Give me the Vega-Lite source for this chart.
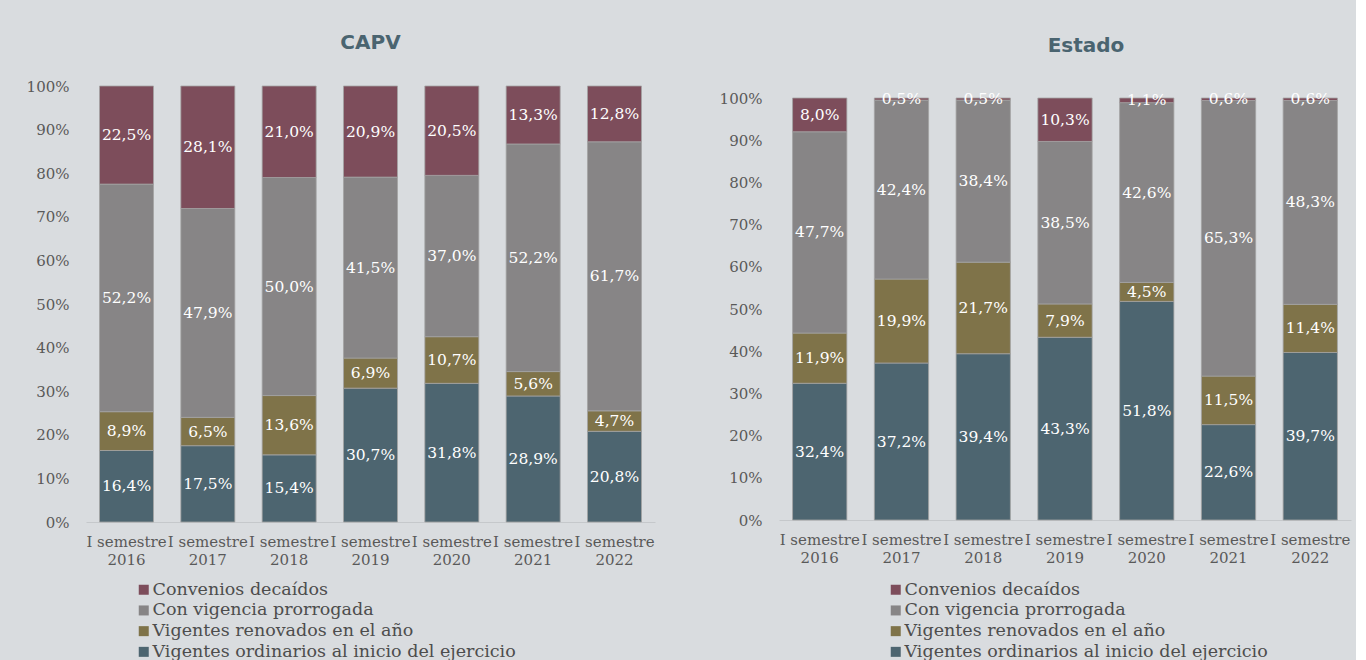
{
  "$schema": "https://vega.github.io/schema/vega-lite/v6.json",
  "background": "#d9dcdf",
  "padding": {"left": 26, "top": 33, "right": 5, "bottom": 0},
  "datasets": {
    "capv": [
      {"periodo": "I semestre 2016", "serie": "Vigentes ordinarios al inicio del ejercicio", "valor": 16.4},
      {"periodo": "I semestre 2016", "serie": "Vigentes renovados en el año", "valor": 8.9},
      {"periodo": "I semestre 2016", "serie": "Con vigencia prorrogada", "valor": 52.2},
      {"periodo": "I semestre 2016", "serie": "Convenios decaídos", "valor": 22.5},
      {"periodo": "I semestre 2017", "serie": "Vigentes ordinarios al inicio del ejercicio", "valor": 17.5},
      {"periodo": "I semestre 2017", "serie": "Vigentes renovados en el año", "valor": 6.5},
      {"periodo": "I semestre 2017", "serie": "Con vigencia prorrogada", "valor": 47.9},
      {"periodo": "I semestre 2017", "serie": "Convenios decaídos", "valor": 28.1},
      {"periodo": "I semestre 2018", "serie": "Vigentes ordinarios al inicio del ejercicio", "valor": 15.4},
      {"periodo": "I semestre 2018", "serie": "Vigentes renovados en el año", "valor": 13.6},
      {"periodo": "I semestre 2018", "serie": "Con vigencia prorrogada", "valor": 50.0},
      {"periodo": "I semestre 2018", "serie": "Convenios decaídos", "valor": 21.0},
      {"periodo": "I semestre 2019", "serie": "Vigentes ordinarios al inicio del ejercicio", "valor": 30.7},
      {"periodo": "I semestre 2019", "serie": "Vigentes renovados en el año", "valor": 6.9},
      {"periodo": "I semestre 2019", "serie": "Con vigencia prorrogada", "valor": 41.5},
      {"periodo": "I semestre 2019", "serie": "Convenios decaídos", "valor": 20.9},
      {"periodo": "I semestre 2020", "serie": "Vigentes ordinarios al inicio del ejercicio", "valor": 31.8},
      {"periodo": "I semestre 2020", "serie": "Vigentes renovados en el año", "valor": 10.7},
      {"periodo": "I semestre 2020", "serie": "Con vigencia prorrogada", "valor": 37.0},
      {"periodo": "I semestre 2020", "serie": "Convenios decaídos", "valor": 20.5},
      {"periodo": "I semestre 2021", "serie": "Vigentes ordinarios al inicio del ejercicio", "valor": 28.9},
      {"periodo": "I semestre 2021", "serie": "Vigentes renovados en el año", "valor": 5.6},
      {"periodo": "I semestre 2021", "serie": "Con vigencia prorrogada", "valor": 52.2},
      {"periodo": "I semestre 2021", "serie": "Convenios decaídos", "valor": 13.3},
      {"periodo": "I semestre 2022", "serie": "Vigentes ordinarios al inicio del ejercicio", "valor": 20.8},
      {"periodo": "I semestre 2022", "serie": "Vigentes renovados en el año", "valor": 4.7},
      {"periodo": "I semestre 2022", "serie": "Con vigencia prorrogada", "valor": 61.7},
      {"periodo": "I semestre 2022", "serie": "Convenios decaídos", "valor": 12.8}
    ],
    "estado": [
      {"periodo": "I semestre 2016", "serie": "Vigentes ordinarios al inicio del ejercicio", "valor": 32.4},
      {"periodo": "I semestre 2016", "serie": "Vigentes renovados en el año", "valor": 11.9},
      {"periodo": "I semestre 2016", "serie": "Con vigencia prorrogada", "valor": 47.7},
      {"periodo": "I semestre 2016", "serie": "Convenios decaídos", "valor": 8.0},
      {"periodo": "I semestre 2017", "serie": "Vigentes ordinarios al inicio del ejercicio", "valor": 37.2},
      {"periodo": "I semestre 2017", "serie": "Vigentes renovados en el año", "valor": 19.9},
      {"periodo": "I semestre 2017", "serie": "Con vigencia prorrogada", "valor": 42.4},
      {"periodo": "I semestre 2017", "serie": "Convenios decaídos", "valor": 0.5},
      {"periodo": "I semestre 2018", "serie": "Vigentes ordinarios al inicio del ejercicio", "valor": 39.4},
      {"periodo": "I semestre 2018", "serie": "Vigentes renovados en el año", "valor": 21.7},
      {"periodo": "I semestre 2018", "serie": "Con vigencia prorrogada", "valor": 38.4},
      {"periodo": "I semestre 2018", "serie": "Convenios decaídos", "valor": 0.5},
      {"periodo": "I semestre 2019", "serie": "Vigentes ordinarios al inicio del ejercicio", "valor": 43.3},
      {"periodo": "I semestre 2019", "serie": "Vigentes renovados en el año", "valor": 7.9},
      {"periodo": "I semestre 2019", "serie": "Con vigencia prorrogada", "valor": 38.5},
      {"periodo": "I semestre 2019", "serie": "Convenios decaídos", "valor": 10.3},
      {"periodo": "I semestre 2020", "serie": "Vigentes ordinarios al inicio del ejercicio", "valor": 51.8},
      {"periodo": "I semestre 2020", "serie": "Vigentes renovados en el año", "valor": 4.5},
      {"periodo": "I semestre 2020", "serie": "Con vigencia prorrogada", "valor": 42.6},
      {"periodo": "I semestre 2020", "serie": "Convenios decaídos", "valor": 1.1},
      {"periodo": "I semestre 2021", "serie": "Vigentes ordinarios al inicio del ejercicio", "valor": 22.6},
      {"periodo": "I semestre 2021", "serie": "Vigentes renovados en el año", "valor": 11.5},
      {"periodo": "I semestre 2021", "serie": "Con vigencia prorrogada", "valor": 65.3},
      {"periodo": "I semestre 2021", "serie": "Convenios decaídos", "valor": 0.6},
      {"periodo": "I semestre 2022", "serie": "Vigentes ordinarios al inicio del ejercicio", "valor": 39.7},
      {"periodo": "I semestre 2022", "serie": "Vigentes renovados en el año", "valor": 11.4},
      {"periodo": "I semestre 2022", "serie": "Con vigencia prorrogada", "valor": 48.3},
      {"periodo": "I semestre 2022", "serie": "Convenios decaídos", "valor": 0.6}
    ]
  },
  "spacing": 64,
  "resolve": {"scale": {"color": "independent"}, "legend": {"color": "independent"}},
  "hconcat": [
    {
      "title": {"text": "CAPV", "fontSize": 20, "font": "DejaVu Sans", "fontWeight": "bold", "color": "#4a6470", "offset": 26, "anchor": "middle"},
      "width": 569,
      "height": 436,
      "data": {"name": "capv"},
      "transform": [
        {"calculate": "indexof(['Vigentes ordinarios al inicio del ejercicio','Vigentes renovados en el año','Con vigencia prorrogada','Convenios decaídos'], datum.serie)", "as": "rango"},
        {"stack": "valor", "groupby": ["periodo"], "sort": [{"field": "rango", "order": "ascending"}], "as": ["v0", "v1"]},
        {"calculate": "(datum.v0 + datum.v1) / 2", "as": "vm"},
        {"calculate": "replace(format(datum.valor, '.1f'), '.', ',') + '%'", "as": "etiqueta"}
      ],
      "encoding": {
        "x": {"field": "periodo", "type": "nominal", "sort": null, "title": null,
          "scale": {"paddingInner": 0.336, "paddingOuter": 0.166},
          "axis": {"labelExpr": "[slice(datum.label, 0, 10), slice(datum.label, 11)]", "labelAngle": 0, "labelOverlap": false, "ticks": false, "domainColor": "#c5c8cb", "labelPadding": 12, "labelLineHeight": 18}}
      },
      "layer": [
        {
          "mark": {"type": "bar", "stroke": "#a3a3a3", "strokeWidth": 0.8},
          "encoding": {
            "y": {"field": "v0", "type": "quantitative", "title": null, "scale": {"domain": [0, 100]},
              "axis": {"values": [0, 10, 20, 30, 40, 50, 60, 70, 80, 90, 100], "labelExpr": "datum.value + '%'", "ticks": false, "domain": false, "grid": false, "labelPadding": 17}},
            "y2": {"field": "v1"},
            "color": {"field": "serie", "type": "nominal",
              "scale": {"domain": ["Convenios decaídos", "Con vigencia prorrogada", "Vigentes renovados en el año", "Vigentes ordinarios al inicio del ejercicio"],
                        "range": ["#7d4d5b", "#878586", "#7f7349", "#4d6570"]},
              "legend": {"orient": "none", "legendX": 49, "legendY": 495, "direction": "vertical", "title": null}}
          }
        },
        {
          "mark": {"type": "text", "color": "#ffffff", "font": "DejaVu Serif", "fontSize": 15.5, "baseline": "middle"},
          "encoding": {
            "y": {"field": "vm", "type": "quantitative", "title": null,
              "axis": {"values": [0, 10, 20, 30, 40, 50, 60, 70, 80, 90, 100], "labelExpr": "datum.value + '%'", "ticks": false, "domain": false, "grid": false, "labelPadding": 17}},
            "text": {"field": "etiqueta"}
          }
        }
      ]
    },
    {
      "title": {"text": "Estado", "fontSize": 20, "font": "DejaVu Sans", "fontWeight": "bold", "color": "#4a6470", "offset": 30, "anchor": "middle", "dx": 21},
      "width": 572,
      "height": 434,
      "data": {"name": "estado"},
      "transform": [
        {"calculate": "indexof(['Vigentes ordinarios al inicio del ejercicio','Vigentes renovados en el año','Con vigencia prorrogada','Convenios decaídos'], datum.serie)", "as": "rango"},
        {"stack": "valor", "groupby": ["periodo"], "sort": [{"field": "rango", "order": "ascending"}], "as": ["v0", "v1"]},
        {"calculate": "(datum.v0 + datum.v1) / 2", "as": "vm"},
        {"calculate": "replace(format(datum.valor, '.1f'), '.', ',') + '%'", "as": "etiqueta"}
      ],
      "encoding": {
        "x": {"field": "periodo", "type": "nominal", "sort": null, "title": null,
          "scale": {"paddingInner": 0.336, "paddingOuter": 0.166},
          "axis": {"labelExpr": "[slice(datum.label, 0, 10), slice(datum.label, 11)]", "labelAngle": 0, "labelOverlap": false, "ticks": false, "domainColor": "#c5c8cb", "labelPadding": 12, "labelLineHeight": 18}}
      },
      "layer": [
        {
          "mark": {"type": "bar", "stroke": "#a3a3a3", "strokeWidth": 0.8},
          "encoding": {
            "y": {"field": "v0", "type": "quantitative", "title": null, "scale": {"domain": [0, 100], "range": [434, 12]},
              "axis": {"values": [0, 10, 20, 30, 40, 50, 60, 70, 80, 90, 100], "labelExpr": "datum.value + '%'", "ticks": false, "domain": false, "grid": false, "labelPadding": 17}},
            "y2": {"field": "v1"},
            "color": {"field": "serie", "type": "nominal",
              "scale": {"domain": ["Convenios decaídos", "Con vigencia prorrogada", "Vigentes renovados en el año", "Vigentes ordinarios al inicio del ejercicio"],
                        "range": ["#7d4d5b", "#878586", "#7f7349", "#4d6570"]},
              "legend": {"orient": "none", "legendX": 108, "legendY": 495, "direction": "vertical", "title": null}}
          }
        },
        {
          "mark": {"type": "text", "color": "#ffffff", "font": "DejaVu Serif", "fontSize": 15.5, "baseline": "middle"},
          "encoding": {
            "y": {"field": "vm", "type": "quantitative", "title": null,
              "axis": {"values": [0, 10, 20, 30, 40, 50, 60, 70, 80, 90, 100], "labelExpr": "datum.value + '%'", "ticks": false, "domain": false, "grid": false, "labelPadding": 17}},
            "text": {"field": "etiqueta"}
          }
        }
      ]
    }
  ],
  "config": {
    "view": {"stroke": null},
    "axis": {"labelFont": "DejaVu Serif", "labelFontSize": 15, "labelColor": "#595959"},
    "legend": {"symbolType": "square", "symbolSize": 100, "symbolStrokeWidth": 0, "labelFont": "DejaVu Serif", "labelFontSize": 17.5, "labelColor": "#4d4d4d", "rowPadding": 1.7, "labelOffset": 0, "labelLimit": 500, "padding": 0}
  }
}
